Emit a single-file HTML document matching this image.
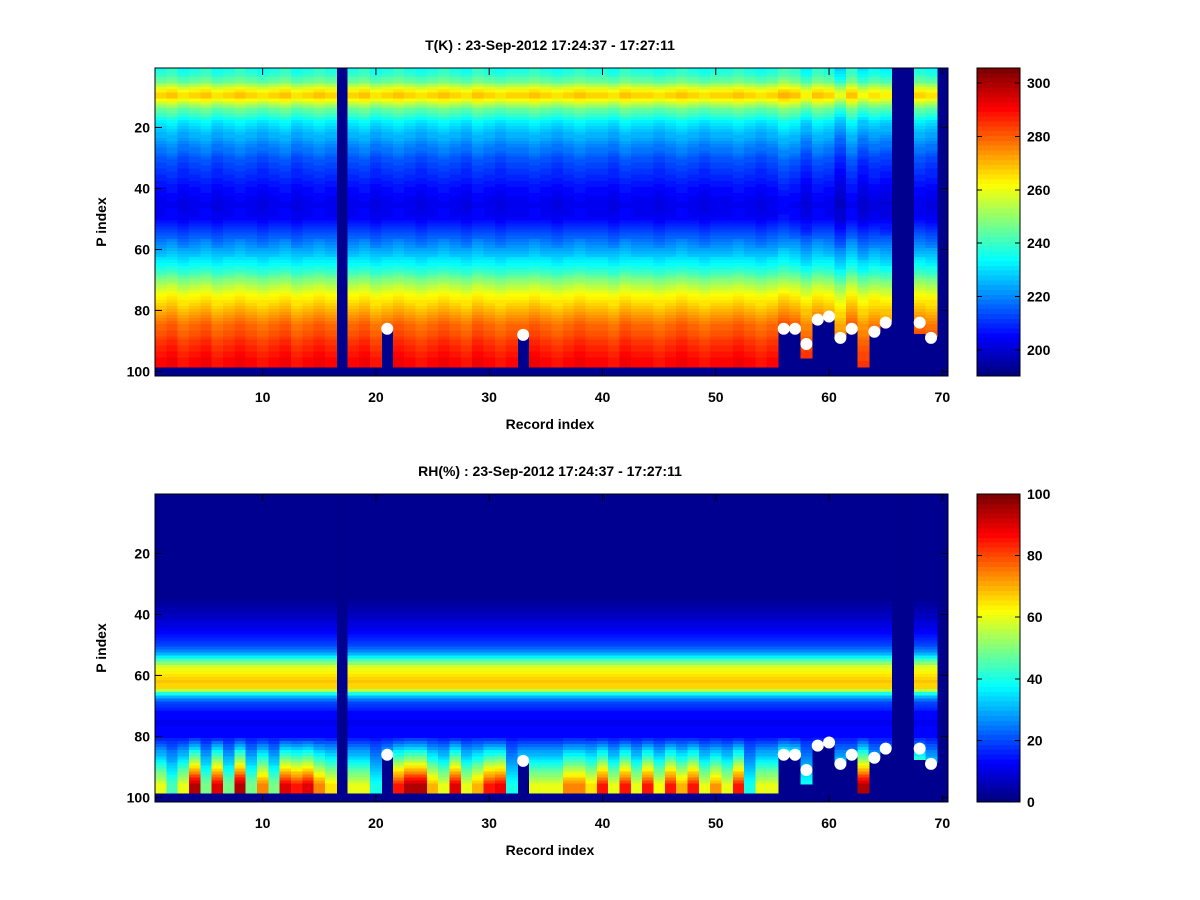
<!DOCTYPE html>
<html><head><meta charset="utf-8">
<style>
html,body{margin:0;padding:0;background:#fff;}
svg{display:block;font-family:"Liberation Sans",sans-serif;}
text{font-weight:bold;font-size:14px;fill:#000;}
</style></head>
<body>
<svg id="fig" width="1200" height="900"></svg>
<script>
// ---------- data ----------
const records = 70;
const levels = 101;
const missingCols = [17, 66, 67, 70];
const tKnotIdx = [1, 3, 5, 6, 7, 8, 9, 10, 11, 12, 14, 16, 18, 22, 30, 40, 45, 50, 55, 60, 65, 68, 72, 76, 80, 85, 90, 95, 98];
const tKnotVal = [237, 240, 246, 252, 258, 264, 267, 266, 262, 256, 246, 240, 233, 226, 215, 206, 203, 205, 214, 224, 234, 242, 254, 264, 271, 279, 284, 289, 291];
const tColOffset = [0,1,-1,0,1,-1,0,1,0,-1,0,1,-1,0,1,0,0,0,1,-1,0,1,0,-1,0,1,0,-1,1,0,-1,0,0,1,0,-1,0,1,0,0,-1,1,0,0,-1,0,1,0,-1,0,0,1,0,-1,0,2,1,-2,1,0,-4,1,-3,-1,-2,0,0,0,-1,0];
const cutRow = [98,98,98,98,98,98,98,98,98,98,98,98,98,98,98,98,98,98,98,98,85,98,98,98,98,98,98,98,98,98,98,98,87,98,98,98,98,98,98,98,98,98,98,98,98,98,98,98,98,98,98,98,98,98,98,85,85,95,82,81,88,85,98,86,83,98,98,87,88,98];
const dotCols = [21, 33, 56, 57, 58, 59, 60, 61, 62, 64, 65, 68, 69];
const dotRows = [86, 88, 86, 86, 91, 83, 82, 89, 86, 87, 84, 84, 89];
const rhKnotIdx = [1, 35, 40, 45, 50, 53, 55, 57, 60, 62, 64, 65, 66, 67, 69, 72, 75, 80];
const rhKnotVal = [2, 3, 7, 11, 19, 30, 45, 58, 65, 68, 66, 55, 40, 30, 20, 14, 12, 14];
const rhBottom = [60,45,60,95,50,90,50,95,50,75,50,90,85,90,75,65,0,60,60,40,60,85,95,95,70,60,90,60,70,85,88,40,60,60,60,60,75,75,65,85,60,85,60,85,62,85,70,85,60,72,60,85,40,60,60,95,85,40,50,50,50,50,95,50,50,0,0,75,50,0];
const tTicks = [200, 220, 240, 260, 280, 300];
const rhTicks = [0, 20, 40, 60, 80, 100];
const xTicks = [10, 20, 30, 40, 50, 60, 70];
const yTicks = [20, 40, 60, 80, 100];

// ---------- helpers ----------
const NS = 'http://www.w3.org/2000/svg';
const svg = document.getElementById('fig');
function mk(tag, attrs, parent){const e=document.createElementNS(NS,tag);for(const k in attrs)e.setAttribute(k,attrs[k]);(parent||svg).appendChild(e);return e;}
function interp(ix, vx, i){if(i<=ix[0])return vx[0];for(let k=1;k<ix.length;k++){if(i<=ix[k]){const f=(i-ix[k-1])/(ix[k]-ix[k-1]);return vx[k-1]+f*(vx[k]-vx[k-1]);}}return vx[vx.length-1];}
function cl(v){return Math.max(0,Math.min(1,v));}
function jet(v){v=cl(v);v=Math.floor(v*63.999)/63;const r=cl(1.5-Math.abs(4*v-3)),g=cl(1.5-Math.abs(4*v-2)),b=cl(1.5-Math.abs(4*v-1));return 'rgb('+Math.round(r*255)+','+Math.round(g*255)+','+Math.round(b*255)+')';}

const AX = {x0:155, x1:948};
const xScale = r => AX.x0 + (r-0.5)/records*(AX.x1-AX.x0);
function makeY(top,bot){return i => top + (i-0.5)/levels*(bot-top);}

function drawPanel(top, bot, valueFn, vmin, vmax, ticks, title, prefix){
  const yScale = makeY(top,bot);
  const g = mk('g',{'shape-rendering':'crispEdges'});
  
  
  mk('rect',{x:AX.x0,y:top,width:AX.x1-AX.x0,height:bot-top,fill:'#00008f'},g);
  const cw = xScale(2)-xScale(1), rh = yScale(2)-yScale(1);
  for(let r=1;r<=records;r++){
    if(missingCols.indexOf(r)>=0) continue;
    for(let i=1;i<=cutRow[r-1];i++){
      const v = valueFn(r,i);
      const c = mk('rect',{x:xScale(r-0.5).toFixed(2),y:yScale(i-0.5).toFixed(2),width:(cw+0.6).toFixed(2),height:(rh+0.6).toFixed(2),fill:jet((v-vmin)/(vmax-vmin))},g);
      
      
    }
  }
  for(let k=0;k<dotCols.length;k++){
    const d = mk('circle',{cx:xScale(dotCols[k]),cy:yScale(dotRows[k]),r:6,fill:'#fff'});
    
    
  }
  const fr = mk('rect',{x:AX.x0,y:top,width:AX.x1-AX.x0,height:bot-top,fill:'none',stroke:'#000','stroke-width':1});
  
  
  xTicks.forEach(t=>{
    const x=xScale(t);
    mk('line',{x1:x,x2:x,y1:bot,y2:bot-7,stroke:'#000'});
    mk('line',{x1:x,x2:x,y1:top,y2:top+7,stroke:'#000'});
    const tx=mk('text',{x:x,y:bot+26,'text-anchor':'middle'});tx.textContent=t;
    
    
  });
  yTicks.forEach(t=>{
    const y=yScale(t);
    mk('line',{x1:AX.x0,x2:AX.x0+7,y1:y,y2:y,stroke:'#000'});
    mk('line',{x1:AX.x1,x2:AX.x1-7,y1:y,y2:y,stroke:'#000'});
    const tx=mk('text',{x:AX.x0-5,y:y+5,'text-anchor':'end'});tx.textContent=t;
    
    
  });
  const tt=mk('text',{x:550,y:top-18,'text-anchor':'middle'});tt.textContent=title;
  
  
  const xl=mk('text',{x:550,y:bot+53,'text-anchor':'middle','font-size':'17'});xl.textContent='Record index';
  
  
  const yc=(top+bot)/2;
  const yl=mk('text',{x:106,y:yc,'text-anchor':'middle','font-size':'17',transform:'rotate(-90 106 '+yc+')'});yl.textContent='P index';
  
  
  const cb = mk('g',{'shape-rendering':'crispEdges'});
  
  
  const cx0=977,cx1=1020,n=64,h=(bot-top)/n;
  for(let k=0;k<n;k++){mk('rect',{x:cx0,y:(bot-(k+1)*h).toFixed(2),width:cx1-cx0,height:(h+0.6).toFixed(2),fill:jet((k+0.5)/n)},cb);}
  mk('rect',{x:cx0,y:top,width:cx1-cx0,height:bot-top,fill:'none',stroke:'#000'},cb);
  ticks.forEach(t=>{
    const y=bot-(t-vmin)/(vmax-vmin)*(bot-top);
    mk('line',{x1:cx0,x2:cx0+5,y1:y,y2:y,stroke:'#000'},cb);
    mk('line',{x1:cx1,x2:cx1-5,y1:y,y2:y,stroke:'#000'},cb);
    const tx=mk('text',{x:cx1+7,y:y+5});tx.textContent=t;
    
    
  });
}

function tVal(r,i){return interp(tKnotIdx,tKnotVal,i)+tColOffset[r-1]*(1+Math.abs(i-50)/50);}
function rhVal(r,i){
  const p80=interp(rhKnotIdx,rhKnotVal,80);
  if(i<=80) return interp(rhKnotIdx,rhKnotVal,i);
  return p80+(rhBottom[r-1]-p80)*Math.min(1,(i-80)/16);
}
drawPanel(68,376,tVal,190.3,305.6,tTicks,'T(K) : 23-Sep-2012 17:24:37 - 17:27:11','temperature');
drawPanel(494,802,rhVal,0,100,rhTicks,'RH(%) : 23-Sep-2012 17:24:37 - 17:27:11','humidity');
</script>
</body></html>
